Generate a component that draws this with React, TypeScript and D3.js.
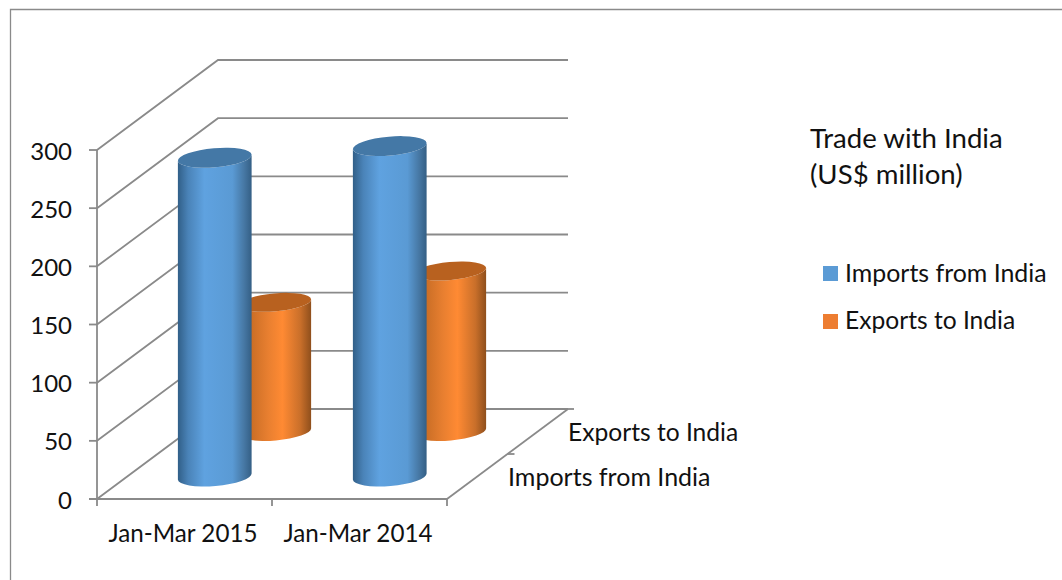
import React from "react";
import * as d3 from "d3";

// Trade values in US$ million, one entry per period
const periods = ["Jan-Mar 2015", "Jan-Mar 2014"];
const seriesNames = ["Imports from India", "Exports to India"];
const importsFromIndia = [274, 284];
const exportsToIndia = [111, 138];
const valueTicks = [0, 50, 100, 150, 200, 250, 300];

const W = 1062;
const H = 580;
const FONT = "Lato, Carlito, Calibri, sans-serif";
const GRID = "#8a8a8a";
const INK = "#111";

// Oblique projection: a value and a depth shift the front-plane position
const x = d3.scaleBand<string>().domain(periods).range([97, 447]);
const y = d3.scaleLinear().domain([0, 300]).range([499, 150]);
const depthX = d3.scaleLinear().domain([0, 1]).range([0, 121]);
const depthY = d3.scaleLinear().domain([0, 1]).range([0, -90]);
const depthPos = d3.scalePoint<string>().domain(seriesNames).range([0.25, 0.75]);

const ROT = -5;
const rad = (ROT * Math.PI) / 180;

function Cylinder({ cx, base, top, rx, ry, fill, cap }: {
  cx: number; base: number; top: number; rx: number; ry: number; fill: string; cap: string;
}) {
  const dx = rx * Math.cos(rad);
  const dy = rx * Math.sin(rad);
  const side = [
    `M${cx - dx},${top - dy}`,
    `L${cx - dx},${base - dy}`,
    `A${rx},${ry} ${ROT} 0 0 ${cx + dx},${base + dy}`,
    `L${cx + dx},${top + dy}`,
    `A${rx},${ry} ${ROT} 0 1 ${cx - dx},${top - dy}`,
    "Z",
  ].join(" ");
  return (
    <g>
      <path d={side} fill={fill} />
      <ellipse cx={cx} cy={top} rx={rx} ry={ry} fill={cap} transform={`rotate(${ROT} ${cx} ${top})`} />
    </g>
  );
}

export default function App() {
  const backX = (v: number) => v + depthX(1);
  const backY = (v: number) => y(v) + depthY(1);
  const xLeft = x.range()[0];
  const xRight = x.range()[1];
  const bw = x.bandwidth();

  const cylinders = [
    { name: seriesNames[1], values: exportsToIndia, rx: 36, ry: 9, fill: "url(#orangeSide)", cap: "#b8611f" },
    { name: seriesNames[0], values: importsFromIndia, rx: 37, ry: 9.5, fill: "url(#blueSide)", cap: "#4478a6" },
  ];

  return (
    <svg width={W} height={H} viewBox={`0 0 ${W} ${H}`}
      style={{ position: "absolute", left: 0, top: 0, display: "block", background: "#fff" }}>
      <defs>
        <linearGradient id="blueSide" x1="0" x2="1" y1="0" y2="0">
          <stop offset="0" stopColor="#315f88" />
          <stop offset="0.14" stopColor="#4a83b8" />
          <stop offset="0.36" stopColor="#5fa2e0" />
          <stop offset="0.74" stopColor="#5a9ad4" />
          <stop offset="0.9" stopColor="#4677a3" />
          <stop offset="1" stopColor="#345f85" />
        </linearGradient>
        <linearGradient id="orangeSide" x1="0" x2="1" y1="0" y2="0">
          <stop offset="0" stopColor="#b5621f" />
          <stop offset="0.4" stopColor="#e87f30" />
          <stop offset="0.6" stopColor="#ff8a33" />
          <stop offset="0.85" stopColor="#c96f2a" />
          <stop offset="1" stopColor="#8f4f1c" />
        </linearGradient>
      </defs>

      {/* outer frame, open on the right and at the bottom */}
      <path d={`M10.5,${H} V9.5 H${W}`} fill="none" stroke={GRID} strokeWidth={1.3} />

      {/* side wall and back wall gridlines */}
      <g fill="none" stroke={GRID} strokeWidth={1.8}>
        {valueTicks.map((v) => (
          <path key={v} d={`M${xLeft},${y(v)} L${backX(xLeft)},${backY(v)} H${backX(xRight)}`} />
        ))}
        <path d={`M${xLeft - 8},${y(0)} H${xRight}`} />
        <path d={`M${xLeft},${y(300)} V${y(0) + 7}`} />
        <path d={`M${xRight},${y(0)} L${backX(xRight)},${backY(0)}`} />
        <path d={`M${backX(xRight) - 6},${backY(0)} H${backX(xRight) + 6}`} />
        {valueTicks.map((v) => (
          <path key={`t${v}`} d={`M${xLeft - 8},${y(v)} H${xLeft}`} />
        ))}
        {periods.map((p) => (
          <path key={p} d={`M${(x(p) as number) + bw},${y(0)} v7`} />
        ))}
        <path d={`M${xRight + depthX(0.5)},${y(0) + depthY(0.5)} h7`} />
      </g>

      {/* cylinders, back row first so the front row overlaps it */}
      {cylinders.map((s) =>
        periods.map((p, i) => {
          const d = depthPos(s.name) as number;
          const cx = (x(p) as number) + bw / 2 + depthX(d);
          const base = y(0) + depthY(d);
          const top = y(s.values[i]) + depthY(d);
          return (
            <Cylinder key={s.name + p} cx={cx} base={base} top={top}
              rx={s.rx} ry={s.ry} fill={s.fill} cap={s.cap} />
          );
        })
      )}

      {/* value axis labels */}
      <g fontFamily={FONT} fontSize={24} fill={INK} textAnchor="end">
        {valueTicks.map((v) => (
          <text key={v} x={72} y={y(v) + 9.5}>{v}</text>
        ))}
      </g>

      {/* period labels */}
      <g fontFamily={FONT} fontSize={24.2} fill={INK} textAnchor="middle">
        {periods.map((p) => (
          <text key={p} x={(x(p) as number) + bw / 2 - 1.5} y={542}>{p}</text>
        ))}
      </g>

      {/* series labels along the depth axis */}
      <g fontFamily={FONT} fontSize={24.6} fill={INK}>
        <text x={568} y={441}>{seriesNames[1]}</text>
        <text x={508} y={486} fontSize={25}>{seriesNames[0]}</text>
      </g>

      {/* title */}
      <g fontFamily={FONT} fontSize={27.6} fill={INK}>
        <text x={810} y={148}>Trade with India</text>
        <text x={810} y={184}>(US$ million)</text>
      </g>

      {/* legend */}
      <g fontFamily={FONT} fontSize={24.6} fill={INK}>
        <rect x={823} y={266} width={15} height={15} fill="#5b9bd5" />
        <text x={845} y={282} fontSize={24.9}>{seriesNames[0]}</text>
        <rect x={823} y={314} width={15} height={15} fill="#ed7d31" />
        <text x={845} y={329}>{seriesNames[1]}</text>
      </g>
    </svg>
  );
}
